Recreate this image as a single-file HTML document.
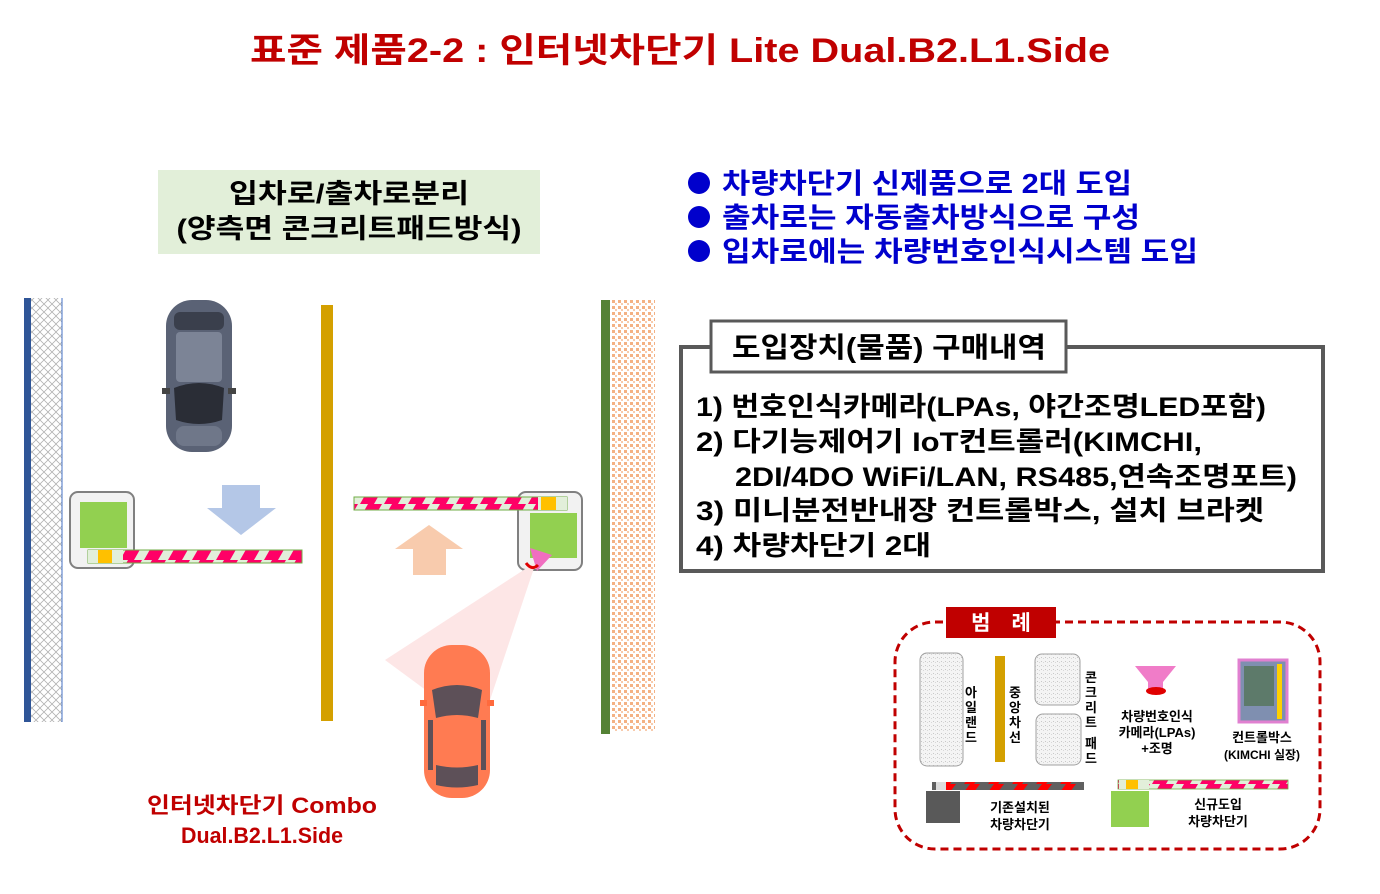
<!DOCTYPE html>
<html><head><meta charset="utf-8"><style>
body{margin:0;background:#fff}
svg{display:block}
text{font-family:"Liberation Sans","Noto Sans CJK KR",sans-serif;font-weight:bold}
</style></head><body>
<svg width="1380" height="894" viewBox="0 0 1380 894" xmlns="http://www.w3.org/2000/svg">
<defs>
<pattern id="stripe" width="24" height="14" patternUnits="userSpaceOnUse">
<rect width="24" height="14" fill="#e2efda"/>
<polygon points="0,14 8,0 22,0 14,14" fill="#ff0066"/>
</pattern>
<pattern id="stripeG" width="24" height="8" patternUnits="userSpaceOnUse">
<rect width="24" height="8" fill="#606060"/>
<polygon points="4,8 10,0 20,0 14,8" fill="#ff0000"/>
</pattern>
<pattern id="hatch" width="8" height="8" patternUnits="userSpaceOnUse">
<rect width="8" height="8" fill="#fff"/>
<path d="M0,4 L4,0 L8,4 L4,8 Z" fill="none" stroke="#b0b0b0" stroke-width="0.8"/>
</pattern>
<pattern id="dots" width="6" height="6" patternUnits="userSpaceOnUse">
<rect width="6" height="6" fill="#fff"/>
<rect x="0" y="0" width="3" height="3" fill="#f4b183"/>
<rect x="3" y="3" width="2" height="2" fill="#f8cbad"/>
</pattern>
<pattern id="grain" width="4" height="4" patternUnits="userSpaceOnUse">
<rect width="4" height="4" fill="#f4f4f4"/>
<rect x="1" y="1" width="1" height="1" fill="#c8c8c8"/>
<rect x="3" y="2" width="1" height="1" fill="#d8d8d8"/>
</pattern>
</defs>

<text x="680" y="62" font-size="34" fill="#c00000" text-anchor="middle" textLength="860" lengthAdjust="spacingAndGlyphs">표준 제품2-2 : 인터넷차단기 Lite Dual.B2.L1.Side</text>

<rect x="158" y="170" width="382" height="84" fill="#e2efd9"/>
<text x="349" y="203" font-size="27" text-anchor="middle" fill="#000" textLength="240" lengthAdjust="spacingAndGlyphs">입차로/출차로분리</text>
<text x="349" y="238" font-size="27" text-anchor="middle" fill="#000" textLength="345" lengthAdjust="spacingAndGlyphs">(양측면 콘크리트패드방식)</text>

<g fill="#0000cc">
<circle cx="699" cy="183" r="11"/><circle cx="699" cy="217" r="11"/><circle cx="699" cy="251" r="11"/>
<text x="722" y="193" font-size="28" textLength="410" lengthAdjust="spacingAndGlyphs">차량차단기 신제품으로 2대 도입</text>
<text x="722" y="227" font-size="28" textLength="418" lengthAdjust="spacingAndGlyphs">출차로는 자동출차방식으로 구성</text>
<text x="722" y="261" font-size="28" textLength="476" lengthAdjust="spacingAndGlyphs">입차로에는 차량번호인식시스템 도입</text>
</g>

<rect x="24" y="298" width="7" height="424" fill="#2f5597"/>
<rect x="31" y="298" width="31" height="424" fill="url(#hatch)"/>
<line x1="62" y1="298" x2="62" y2="722" stroke="#4472c4" stroke-width="1"/>
<rect x="321" y="305" width="12" height="416" fill="#d4a000"/>
<rect x="601" y="300" width="9" height="434" fill="#548235"/>
<rect x="612" y="300" width="43" height="432" fill="url(#dots)"/>

<rect x="70" y="492" width="64" height="76" rx="8" fill="#f2f2f2" stroke="#808080" stroke-width="2"/>
<rect x="80" y="502" width="47" height="46" fill="#92d050"/>
<rect x="88" y="550" width="214" height="13" fill="url(#stripe)" stroke="#70ad47" stroke-width="1"/>
<rect x="88" y="550" width="35" height="13" fill="#e2efda"/>
<rect x="98" y="550" width="14" height="13" fill="#ffc000"/>
<polygon points="222,485 260,485 260,508 276,508 241,535 207,508 222,508" fill="#b4c7e7"/>

<rect x="518" y="492" width="64" height="78" rx="8" fill="#f2f2f2" stroke="#808080" stroke-width="2"/>
<rect x="530" y="513" width="47" height="45" fill="#92d050"/>
<rect x="354" y="497" width="213" height="13" fill="url(#stripe)" stroke="#70ad47" stroke-width="1"/>
<rect x="538" y="497" width="29" height="13" fill="#e2efda"/>
<rect x="541" y="497" width="15" height="13" fill="#ffc000"/>
<polygon points="413,575 446,575 446,549 463,549 429,525 395,549 413,549" fill="#f8cbad"/>
<polygon points="536,562 385,660 480,730" fill="#fde6e6"/>
<polygon points="530,548 552,555 537,571" fill="#f06ec0"/>
<path d="M526,563 q6,8 12,2" stroke="#e00000" stroke-width="3" fill="none"/>

<g>
<rect x="166" y="300" width="66" height="152" rx="26" fill="#5a6275"/>
<rect x="162" y="388" width="8" height="6" fill="#444"/><rect x="228" y="388" width="8" height="6" fill="#444"/>
<rect x="174" y="312" width="50" height="18" rx="6" fill="#3a3f4c"/>
<rect x="176" y="332" width="46" height="50" rx="4" fill="#7c8496"/>
<path d="M174,388 Q199,378 224,388 L222,420 Q199,428 176,420 Z" fill="#2a2d36"/>
<rect x="176" y="426" width="46" height="20" rx="8" fill="#6f7789"/>
</g>
<g>
<rect x="424" y="645" width="66" height="153" rx="28" fill="#ff7b52"/>
<rect x="420" y="700" width="7" height="6" fill="#ff6a3d"/><rect x="487" y="700" width="7" height="6" fill="#ff6a3d"/>
<path d="M432,690 Q457,680 482,690 L478,718 Q457,712 436,718 Z" fill="#5d5058"/>
<rect x="428" y="720" width="5" height="50" fill="#5d5058"/><rect x="481" y="720" width="5" height="50" fill="#5d5058"/>
<path d="M436,765 Q457,770 478,765 L478,785 Q457,790 436,785 Z" fill="#5d5058"/>
</g>

<text x="262" y="813" font-size="22" fill="#c00000" text-anchor="middle" textLength="230" lengthAdjust="spacingAndGlyphs">인터넷차단기 Combo</text>
<text x="262" y="843" font-size="22" fill="#c00000" text-anchor="middle" textLength="162" lengthAdjust="spacingAndGlyphs">Dual.B2.L1.Side</text>

<rect x="681" y="347" width="642" height="224" fill="#fff" stroke="#595959" stroke-width="4"/>
<rect x="711" y="321" width="355" height="51" fill="#fff" stroke="#595959" stroke-width="3"/>
<text x="732" y="357" font-size="28" fill="#000" textLength="314" lengthAdjust="spacingAndGlyphs">도입장치(물품) 구매내역</text>
<g font-size="27" fill="#000">
<text x="696" y="416" textLength="570" lengthAdjust="spacingAndGlyphs">1) 번호인식카메라(LPAs, 야간조명LED포함)</text>
<text x="696" y="451" textLength="506" lengthAdjust="spacingAndGlyphs">2) 다기능제어기 IoT컨트롤러(KIMCHI,</text>
<text x="735" y="486" textLength="562" lengthAdjust="spacingAndGlyphs">2DI/4DO WiFi/LAN, RS485,연속조명포트)</text>
<text x="696" y="520" textLength="568" lengthAdjust="spacingAndGlyphs">3) 미니분전반내장 컨트롤박스, 설치 브라켓</text>
<text x="696" y="555" textLength="235" lengthAdjust="spacingAndGlyphs">4) 차량차단기 2대</text>
</g>

<rect x="895" y="622" width="425" height="227" rx="40" fill="none" stroke="#c00000" stroke-width="3" stroke-dasharray="8,5"/>
<rect x="946" y="607" width="110" height="31" fill="#c00000"/>
<text x="1001" y="630" font-size="21" fill="#fff" text-anchor="middle">범　례</text>

<rect x="920" y="653" width="43" height="113" rx="7" fill="url(#grain)" stroke="#a0a0a0"/>
<g font-size="13" fill="#000" text-anchor="middle">
<text x="971" y="697">아</text><text x="971" y="712">일</text><text x="971" y="727">랜</text><text x="971" y="742">드</text>
<text x="1015" y="697">중</text><text x="1015" y="712">앙</text><text x="1015" y="727">차</text><text x="1015" y="742">선</text>
<text x="1091" y="682">콘</text><text x="1091" y="697">크</text><text x="1091" y="712">리</text><text x="1091" y="727">트</text><text x="1091" y="748">패</text><text x="1091" y="763">드</text>
</g>
<rect x="995" y="656" width="10" height="106" fill="#d4a000"/>
<rect x="1035" y="654" width="45" height="51" rx="7" fill="url(#grain)" stroke="#a0a0a0"/>
<rect x="1036" y="714" width="45" height="51" rx="7" fill="url(#grain)" stroke="#a0a0a0"/>

<polygon points="1135,666 1176,666 1163,682 1163,690 1148,690 1148,682" fill="#f07cc8"/>
<ellipse cx="1156" cy="691" rx="10" ry="4" fill="#e00000"/>
<g font-size="13" fill="#000" text-anchor="middle">
<text x="1157" y="721">차량번호인식</text>
<text x="1157" y="737">카메라(LPAs)</text>
<text x="1157" y="753">+조명</text>
<text x="1262" y="742">컨트롤박스</text>
<text x="1262" y="759" font-size="12">(KIMCHI 실장)</text>
</g>
<rect x="1239" y="660" width="48" height="62" fill="#7f8fb0" stroke="#e080d0" stroke-width="3"/>
<rect x="1244" y="666" width="30" height="40" fill="#5d7a6a"/>
<rect x="1277" y="664" width="5" height="55" fill="#ffd000"/>

<rect x="932" y="782" width="152" height="8" fill="url(#stripeG)"/>
<rect x="936" y="782" width="10" height="8" fill="#ddd"/>
<rect x="926" y="791" width="34" height="32" fill="#595959"/>
<text x="1020" y="812" font-size="13" text-anchor="middle">기존설치된</text>
<text x="1020" y="829" font-size="13" text-anchor="middle">차량차단기</text>

<rect x="1118" y="780" width="170" height="9" fill="url(#stripe)" stroke="#70ad47" stroke-width="0.8"/>
<rect x="1119" y="780" width="30" height="9" fill="#e2efda"/>
<rect x="1126" y="780" width="12" height="9" fill="#ffc000"/>
<rect x="1111" y="791" width="38" height="36" fill="#92d050"/>
<text x="1218" y="809" font-size="13" text-anchor="middle">신규도입</text>
<text x="1218" y="826" font-size="13" text-anchor="middle">차량차단기</text>
</svg>
</body></html>
